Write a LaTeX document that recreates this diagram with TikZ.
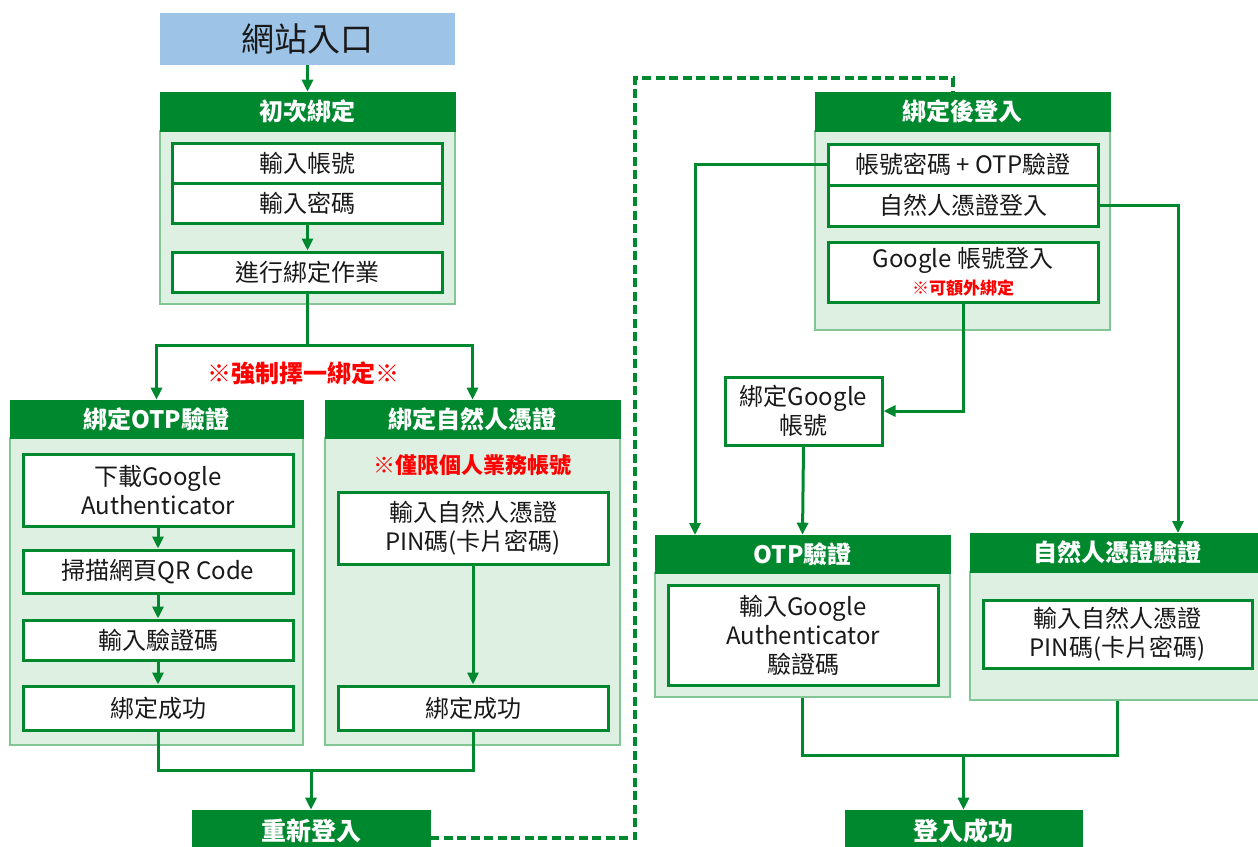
\documentclass[tikz,border=0pt]{standalone}
\usepackage{fontspec}
\setmainfont{Noto Sans CJK TC}
\usetikzlibrary{arrows.meta}
\definecolor{dkg}{RGB}{0,136,46}
\definecolor{lg}{RGB}{222,240,226}
\definecolor{mg}{RGB}{130,198,150}
\definecolor{blu}{RGB}{157,195,230}
\definecolor{rd}{RGB}{255,0,0}
\definecolor{txt}{RGB}{25,25,25}
\begin{document}
\begin{tikzpicture}[x=1pt,y=-1pt,
  box/.style={draw=dkg, line width=3pt, fill=white, minimum width=270pt, inner sep=0pt, align=center, text=txt, font=\fontsize{24}{29}\selectfont},
  hdr/.style={fill=dkg, draw=dkg, line width=0.6pt, text=white, font=\fontsize{24}{29}\selectfont\bfseries, minimum width=295pt, minimum height=39pt, inner sep=0pt},
  body/.style={fill=lg, draw=mg, line width=1.4pt, minimum width=295pt, inner sep=0pt},
  arr/.style={draw=dkg, line width=3pt, -{Triangle[length=12pt,width=11pt]}},
  ln/.style={draw=dkg, line width=3pt},
  dashln/.style={draw=dkg, line width=3.2pt, dash pattern=on 9pt off 4.5pt},
  note/.style={text=rd, inner sep=0pt}
]
\useasboundingbox (0,0) rectangle (1258,846);

% entry
\node[fill=blu, minimum width=295pt, minimum height=52pt, inner sep=0pt, text=txt, font=\fontsize{33}{38}\selectfont] (entry) at (307.5,39) {網站入口};

% group 1
\node[body, minimum height=173pt] (g1b) at (307.5,217.5) {};
\node[hdr] (g1h) at (307.5,111.5) {初次綁定};
\node[box, minimum height=40pt] (acc) at (307.5,163) {輸入帳號};
\node[box, minimum height=40pt] (pwd) at (307.5,203) {輸入密碼};
\node[box, minimum height=40pt] (bind) at (307.5,272) {進行綁定作業};

\node[note, font=\fontsize{24}{28}\selectfont\bfseries] (n1) at (303,373) {※強制擇一綁定※};

% group 2 OTP
\node[body, minimum width=293pt, minimum height=307pt] (g2b) at (156.5,591.5) {};
\node[hdr, minimum width=293pt, minimum height=38pt] (g2h) at (156.5,419) {綁定OTP驗證};
\node[box, minimum height=72pt] (dl) at (158,490) {下載Google\\Authenticator};
\node[box, minimum height=43pt] (scan) at (158,571.5) {掃描網頁QR Code};
\node[box, minimum height=40pt] (code) at (158,640) {輸入驗證碼};
\node[box, minimum height=44pt] (ok1) at (158,708) {綁定成功};

% group 3 cert
\node[body, minimum height=307pt] (g3b) at (472.5,591.5) {};
\node[hdr, minimum height=38pt] (g3h) at (472.5,419) {綁定自然人憑證};
\node[note, font=\fontsize{22}{26}\selectfont\bfseries] (n2) at (472,465) {※僅限個人業務帳號};
\node[box, minimum height=72pt] (pin1) at (473,528) {輸入自然人憑證\\PIN碼(卡片密碼)};
\node[box, minimum height=44pt] (ok2) at (473,708) {綁定成功};

% relogin
\node[hdr, minimum width=238pt, minimum height=42pt, font=\fontsize{25}{29}\selectfont\bfseries] (relogin) at (311,831) {重新登入};

% group 4
\node[body, minimum height=199pt] (g4b) at (962.5,230.5) {};
\node[hdr] (g4h) at (962.5,111.5) {綁定後登入};
\node[box, minimum height=41pt] (pwotp) at (963,164.5) {帳號密碼 + OTP驗證};
\node[box, minimum height=41pt] (cert) at (963,205.5) {自然人憑證登入};
\node[box, minimum height=60pt] (google) at (963,272) {\fontsize{24}{24}\selectfont Google 帳號登入\\[-2pt]{\color{rd}\fontsize{17}{20}\selectfont\bfseries ※可額外綁定}};

\node[box, minimum width=157pt, minimum height=68pt] (bindg) at (803.5,411) {綁定Google\\帳號};

% group 5
\node[body, minimum height=124pt] (g5b) at (802.5,635) {};
\node[hdr, minimum height=38pt] (g5h) at (802.5,554) {OTP驗證};
\node[box, minimum height=100pt] (gauth) at (803,635) {輸入Google\\Authenticator\\驗證碼};

% group 6
\node[body, minimum height=128pt] (g6b) at (1117.5,636) {};
\node[hdr, minimum height=39pt] (g6h) at (1117.5,552.5) {自然人憑證驗證};
\node[box, minimum width=269pt, minimum height=68pt] (pin2) at (1117.5,634) {輸入自然人憑證\\PIN碼(卡片密碼)};

\node[hdr, minimum width=237pt, minimum height=42pt, font=\fontsize{25}{29}\selectfont\bfseries] (success) at (963.5,831) {登入成功};

% coordinates
\coordinate (sp) at (307.5,345);
\coordinate (m1) at (311,770);
\coordinate (dA) at (430,838);
\coordinate (dB) at (635,838);
\coordinate (dC) at (635,78);
\coordinate (dD) at (953,78);
\coordinate (dE) at (953,92);
\coordinate (t1) at (695,535);
\coordinate (t2) at (1178,533);
\coordinate (m2) at (963.5,755);

% connectors
\draw[arr] (entry.south) -- (g1h.north);
\draw[arr] (pwd.south) -- (bind.north);
\draw[ln] (bind.south) -- (sp);
\draw[arr] (sp) -| (g2h.north);
\draw[arr] (sp) -| (g3h.north);
\draw[arr] (dl.south) -- (scan.north);
\draw[arr] (scan.south) -- (code.north);
\draw[arr] (code.south) -- (ok1.north);
\draw[arr] (pin1.south) -- (ok2.north);
\draw[ln] (ok1.south) |- (m1);
\draw[ln] (ok2.south) |- (m1);
\draw[arr] (m1) -- (relogin.north);
\draw[dashln] (dA) -- (dB) -- (dC) -- (dD) -- (dE);
\draw[arr] (pwotp.west) -| (t1);
\draw[arr] (cert.east) -| (t2);
\draw[arr] (google.south) |- (bindg.east);
\draw[arr] (bindg.south) -- (g5h.north);
\draw[ln] (g5b.south) |- (m2);
\draw[ln] (g6b.south) |- (m2);
\draw[arr] (m2) -- (success.north);
\end{tikzpicture}
\end{document}
